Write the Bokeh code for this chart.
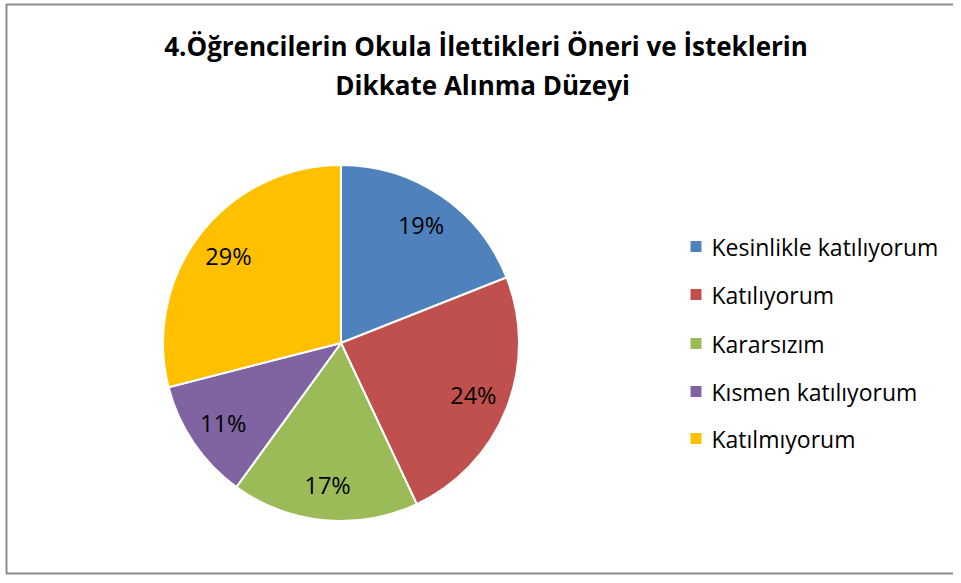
import numpy as np
from bokeh.plotting import figure
from bokeh.models import Range1d, ColumnDataSource
from bokeh.core.properties import value
from bokeh.embed import file_html
from bokeh.resources import INLINE

# ---- data ----
categories = ["Kesinlikle katılıyorum", "Katılıyorum", "Kararsızım",
              "Kısmen katılıyorum", "Katılmıyorum"]
percentages = [19, 24, 17, 11, 29]
colors = ["#4F81BD", "#C0504D", "#9BBB59", "#8064A2", "#FFC000"]
title_lines = ["4.Öğrencilerin Okula İlettikleri Öneri ve İsteklerin",
               "Dikkate Alınma  Düzeyi"]

# ---- layout constants (reference pixel coords, y down) ----
W, H = 953, 575


def fy(ref_y):
    return H - ref_y


cx, cy, R = 340.5, 342.5, 178.0
label_frac = 0.80

p = figure(width=W, height=H, output_backend="svg", toolbar_location=None,
           x_range=Range1d(0, W), y_range=Range1d(0, H),
           min_border=0, background_fill_color="white",
           border_fill_color="white")
p.axis.visible = False
p.grid.visible = False
p.outline_line_color = None

# chart border
p.quad(left=[6], right=[W + 20], top=[fy(4)], bottom=[fy(573)],
       fill_color=None, line_color="#8C8C8C", line_width=2)

vals = np.array(percentages, dtype=float)
frac = vals / vals.sum()
cum_end = np.cumsum(frac)
cum_start = cum_end - frac
start_ang = np.pi / 2 - 2 * np.pi * cum_start
end_ang = np.pi / 2 - 2 * np.pi * cum_end
mid = (cum_start + cum_end) / 2 * 2 * np.pi  # clockwise from top

src = ColumnDataSource(dict(
    x=[cx] * len(vals), y=[fy(cy)] * len(vals),
    start=start_ang, end=end_ang, color=colors,
    lx=cx + label_frac * R * np.sin(mid),
    ly=fy(cy) + label_frac * R * np.cos(mid),
    lab=[f"{v}%" for v in percentages],
))

p.wedge(x="x", y="y", radius=R, start_angle="start", end_angle="end",
        direction="clock", fill_color="color", line_color="white",
        line_width=2, source=src)

p.text(x="lx", y="ly", text="lab", source=src, text_align="center",
       text_baseline="middle",
       text_font=value("Open Sans"), text_font_size="23.5px", text_color="black")

# title
title_x = 485.5
title_centers = [45, 84]
p.text(x=[title_x] * 2, y=[fy(b) for b in title_centers], text=title_lines,
       text_align="center", text_baseline="middle",
       text_font=value("Open Sans"), text_font_style="bold",
       text_font_size="26px", text_color="black")

# legend
row_centers = np.array([246, 294, 343, 391, 438], dtype=float)
p.rect(x=[695.5] * 5, y=[fy(r) for r in row_centers], width=11, height=11,
       fill_color=colors, line_color=None)
p.text(x=[711] * 5, y=[fy(r) for r in row_centers], text=categories,
       text_align="left", text_baseline="middle",
       text_font=value("Open Sans"), text_font_size="23px", text_color="black")

open("out.html", "w").write(file_html(p, INLINE))
